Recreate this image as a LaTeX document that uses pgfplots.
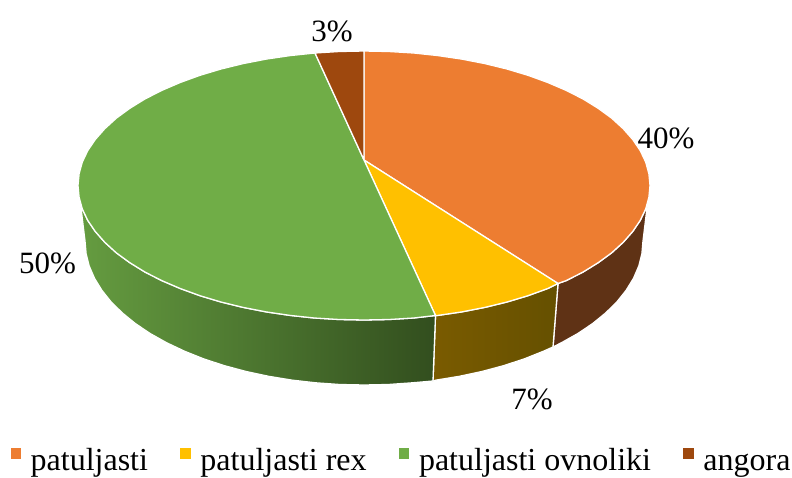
\documentclass[border=0pt]{standalone}
\usepackage{pgfplots}
\pgfplotsset{compat=1.18}
\usepackage{fontspec}
\setmainfont{Liberation Serif}
\definecolor{cOrange}{HTML}{ED7D31}
\definecolor{cYellow}{HTML}{FFC000}
\definecolor{cGreen}{HTML}{70AD47}
\definecolor{cBrown}{HTML}{9E480E}
\definecolor{sOrange}{HTML}{5F3215}
\definecolor{sYellowL}{HTML}{7A5B00}
\definecolor{sYellowR}{HTML}{655000}
\definecolor{sGreenL}{HTML}{659C40}
\definecolor{sGreenR}{HTML}{324E1E}
\newcommand{\labelfont}{\fontsize{31}{31}\selectfont}
\newcommand{\legfont}{\fontsize{32}{32}\selectfont}
\newcommand{\gap}{\rule{32.3pt}{0pt}}
\begin{document}
\begin{tikzpicture}
\useasboundingbox (0,0) rectangle (792pt,477pt);
\begin{axis}[
  scale only axis, width=792pt, height=477pt,
  xmin=0, xmax=792, ymin=0, ymax=477, y dir=reverse,
  hide axis, clip=false,
  legend columns=4,
  legend cell align=left,
  legend style={draw=none, fill=none, inner sep=0pt, outer sep=0pt,
    at={(axis cs:10.5,477)}, anchor=south west,
    font=\legfont,
    nodes={inner sep=0pt, outer sep=0pt, text height=22pt, text depth=6.5pt}},
  legend image code/.code={\fill[#1,draw=none] (0pt,3.5pt) rectangle (10.5pt,14.5pt); \path (19.5pt,0pt);},
  every axis plot/.append style={line join=round},
]
% ---- side walls
\addplot[forget plot, draw=white, line width=1.3pt, fill=sOrange] coordinates {
(647.6,203)(645.7,208.9)(640.3,220.3)(632.7,231.5)(623.2,242.3)(611.7,252.8)(598.3,262.6)(583.1,272)(566.2,280.6)(558,283.5)
(553,347)(561.3,342.8)(577.7,333.6)(592.6,323.6)(605.6,313)(616.9,301.9)(626.2,290.2)(633.5,278.3)(638.8,266)(641.9,253.6)(643,241)
} --cycle;
\addplot[forget plot, draw=white, line width=1.3pt, left color=sYellowL, right color=sYellowR] coordinates {
(558,283.5)(547.8,288.5)(528,295.7)(507,302)(484.9,307.4)(461.8,311.9)(438,315.4)(435.5,315.5)
(433,381)(436.2,380.1)(459.4,376.3)(481.9,371.5)(503.5,365.7)(524,359)(543.3,351.3)(553,347)
} --cycle;
\addplot[forget plot, draw=white, line width=1.3pt, left color=sGreenL, right color=sGreenR] coordinates {
(435.5,315.5)(413.7,318)(388.9,319.5)(364,320)(339.1,319.5)(314.3,318)(290,315.4)(266.2,311.9)(243.1,307.4)(221,302)(200,295.7)(180.2,288.5)(161.8,280.6)(144.9,272)(129.7,262.6)(116.3,252.8)(104.8,242.3)(95.3,231.5)(87.7,220.3)(82.3,208.9)(80.4,203)
(85,241)(86.1,253.6)(89.2,266)(94.5,278.3)(101.8,290.2)(111.1,301.9)(122.4,313)(135.4,323.6)(150.3,333.6)(166.7,342.8)(184.7,351.3)(204,359)(224.5,365.7)(246.1,371.5)(268.6,376.3)(291.8,380.1)(315.6,382.8)(339.7,384.5)(364,385)(388.3,384.5)(412.4,382.8)(433,381)
} --cycle;
% ---- top: patuljasti 40 %
\addplot[draw=white, line width=1.3pt, fill=cOrange] coordinates {
(364,160)(364,51)(388.9,51.5)(413.7,53)(438,55.6)(461.8,59.1)(484.9,63.6)(507,69)(528,75.3)(547.8,82.5)(566.2,90.4)(583.1,99)(598.3,108.4)(611.7,118.2)(623.2,128.7)(632.7,139.5)(640.3,150.7)(645.7,162.1)(648.9,173.8)(650,185.5)(648.9,197.2)(645.7,208.9)(640.3,220.3)(632.7,231.5)(623.2,242.3)(611.7,252.8)(598.3,262.6)(583.1,272)(566.2,280.6)(558,283.5)
} --cycle;
\addlegendentry{patuljasti\gap}
% ---- top: patuljasti rex 7 %
\addplot[draw=white, line width=1.3pt, fill=cYellow] coordinates {
(364,160)(558,283.5)(547.8,288.5)(528,295.7)(507,302)(484.9,307.4)(461.8,311.9)(438,315.4)(435.5,315.5)
} --cycle;
\addlegendentry{patuljasti rex\gap}
% ---- top: patuljasti ovnoliki 50 %
\addplot[draw=white, line width=1.3pt, fill=cGreen] coordinates {
(364,160)(435.5,315.5)(413.7,318)(388.9,319.5)(364,320)(339.1,319.5)(314.3,318)(290,315.4)(266.2,311.9)(243.1,307.4)(221,302)(200,295.7)(180.2,288.5)(161.8,280.6)(144.9,272)(129.7,262.6)(116.3,252.8)(104.8,242.3)(95.3,231.5)(87.7,220.3)(82.3,208.9)(79.1,197.2)(78,185.5)(79.1,173.8)(82.3,162.1)(87.7,150.7)(95.3,139.5)(104.8,128.7)(116.3,118.2)(129.7,108.4)(144.9,99)(161.8,90.4)(180.2,82.5)(200,75.3)(221,69)(243.1,63.6)(266.2,59.1)(290,55.6)(315,53)
} --cycle;
\addlegendentry{patuljasti ovnoliki\gap}
% ---- top: angora 3 %
\addplot[draw=white, line width=1.3pt, fill=cBrown] coordinates {
(364,160)(315,53)(339.1,51.5)(364,51)
} --cycle;
\addlegendentry{angora}
% ---- data labels
\node[font=\labelfont, inner sep=0pt] at (axis cs:666,138) {40\%};
\node[font=\labelfont, inner sep=0pt] at (axis cs:532,399) {7\%};
\node[font=\labelfont, inner sep=0pt] at (axis cs:47.5,263) {50\%};
\node[font=\labelfont, inner sep=0pt] at (axis cs:332,31) {3\%};
\end{axis}
\end{tikzpicture}
\end{document}
